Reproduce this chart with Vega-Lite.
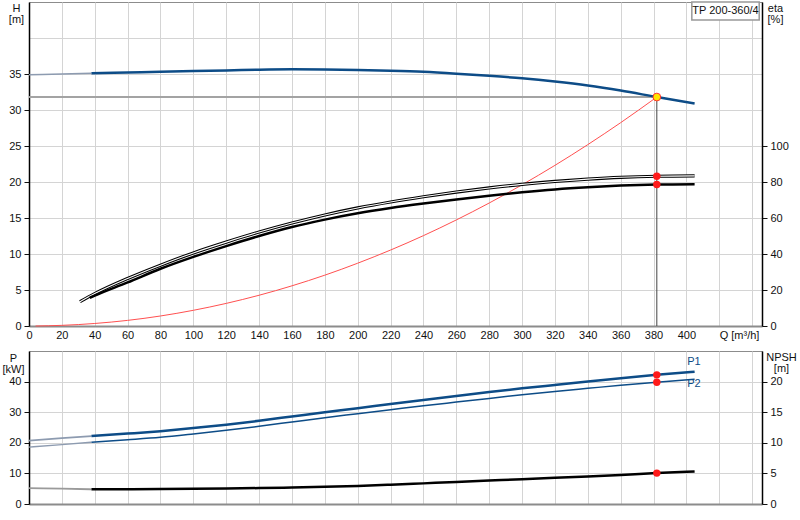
{
  "$schema": "https://vega.github.io/schema/vega-lite/v6.json",
  "padding": {"left": 1, "top": 0, "right": 0, "bottom": 0},
  "spacing": 9,
  "config": {
    "font": "Liberation Sans",
    "view": {"stroke": "#8c8c8c", "strokeWidth": 1},
    "line": {"interpolate": "monotone"},
    "axis": {
      "labelFont": "Liberation Sans", "labelFontSize": 11, "labelColor": "#111",
      "titleFont": "Liberation Sans", "titleFontSize": 11, "titleFontWeight": "normal", "titleColor": "#111",
      "gridColor": "#d4d4d4", "gridOpacity": 1, "gridWidth": 1, "format": "d",
      "tickColor": "#111", "labelFlush": false, "labelOverlap": false
    }
  },
  "datasets": {
    "lines": [
      {"s": "sys", "q": 4, "v": 0.0}, {"s": "sys", "q": 20, "v": 0.09}, {"s": "sys", "q": 40, "v": 0.35},
      {"s": "sys", "q": 60, "v": 0.78}, {"s": "sys", "q": 80, "v": 1.39}, {"s": "sys", "q": 100, "v": 2.18},
      {"s": "sys", "q": 120, "v": 3.14}, {"s": "sys", "q": 140, "v": 4.27}, {"s": "sys", "q": 160, "v": 5.58},
      {"s": "sys", "q": 180, "v": 7.06}, {"s": "sys", "q": 200, "v": 8.72}, {"s": "sys", "q": 220, "v": 10.55},
      {"s": "sys", "q": 240, "v": 12.55}, {"s": "sys", "q": 260, "v": 14.73}, {"s": "sys", "q": 280, "v": 17.08},
      {"s": "sys", "q": 300, "v": 19.61}, {"s": "sys", "q": 320, "v": 22.31}, {"s": "sys", "q": 340, "v": 25.19},
      {"s": "sys", "q": 360, "v": 28.24}, {"s": "sys", "q": 382, "v": 31.8},

      {"s": "Hlo", "q": 0, "v": 34.9}, {"s": "Hlo", "q": 20, "v": 35.0}, {"s": "Hlo", "q": 38, "v": 35.1},
      {"s": "H", "q": 38, "v": 35.1}, {"s": "H", "q": 60, "v": 35.2}, {"s": "H", "q": 80, "v": 35.3},
      {"s": "H", "q": 100, "v": 35.4}, {"s": "H", "q": 120, "v": 35.5}, {"s": "H", "q": 140, "v": 35.6},
      {"s": "H", "q": 160, "v": 35.65}, {"s": "H", "q": 180, "v": 35.62}, {"s": "H", "q": 200, "v": 35.55},
      {"s": "H", "q": 220, "v": 35.45}, {"s": "H", "q": 240, "v": 35.3}, {"s": "H", "q": 260, "v": 35.05},
      {"s": "H", "q": 280, "v": 34.75}, {"s": "H", "q": 300, "v": 34.4}, {"s": "H", "q": 320, "v": 33.95},
      {"s": "H", "q": 340, "v": 33.4}, {"s": "H", "q": 360, "v": 32.7}, {"s": "H", "q": 382, "v": 31.8},
      {"s": "H", "q": 405, "v": 30.9},

      {"s": "eta1", "q": 31, "v": 13.5}, {"s": "eta1", "q": 40, "v": 18.0}, {"s": "eta1", "q": 60, "v": 26.4},
      {"s": "eta1", "q": 80, "v": 33.8}, {"s": "eta1", "q": 100, "v": 40.6}, {"s": "eta1", "q": 120, "v": 46.6},
      {"s": "eta1", "q": 140, "v": 52.2}, {"s": "eta1", "q": 160, "v": 57.2}, {"s": "eta1", "q": 180, "v": 61.7},
      {"s": "eta1", "q": 200, "v": 65.6}, {"s": "eta1", "q": 220, "v": 68.9}, {"s": "eta1", "q": 240, "v": 71.8},
      {"s": "eta1", "q": 260, "v": 74.4}, {"s": "eta1", "q": 280, "v": 76.7}, {"s": "eta1", "q": 300, "v": 78.7},
      {"s": "eta1", "q": 320, "v": 80.3}, {"s": "eta1", "q": 340, "v": 81.6}, {"s": "eta1", "q": 360, "v": 82.6},
      {"s": "eta1", "q": 382, "v": 83.2}, {"s": "eta1", "q": 405, "v": 83.4},

      {"s": "eta2", "q": 37, "v": 15.7}, {"s": "eta2", "q": 40, "v": 16.9}, {"s": "eta2", "q": 60, "v": 24.2},
      {"s": "eta2", "q": 80, "v": 31.8}, {"s": "eta2", "q": 100, "v": 38.4}, {"s": "eta2", "q": 120, "v": 44.4},
      {"s": "eta2", "q": 140, "v": 50.0}, {"s": "eta2", "q": 160, "v": 55.0}, {"s": "eta2", "q": 180, "v": 59.1},
      {"s": "eta2", "q": 200, "v": 62.6}, {"s": "eta2", "q": 220, "v": 65.5}, {"s": "eta2", "q": 240, "v": 68.0},
      {"s": "eta2", "q": 260, "v": 70.3}, {"s": "eta2", "q": 280, "v": 72.4}, {"s": "eta2", "q": 300, "v": 74.3},
      {"s": "eta2", "q": 320, "v": 75.9}, {"s": "eta2", "q": 340, "v": 77.1}, {"s": "eta2", "q": 360, "v": 78.0},
      {"s": "eta2", "q": 382, "v": 78.6}, {"s": "eta2", "q": 405, "v": 78.8},

      {"s": "P1lo", "q": 0, "v": 20.7}, {"s": "P1lo", "q": 20, "v": 21.5}, {"s": "P1lo", "q": 38, "v": 22.2},
      {"s": "P1", "q": 38, "v": 22.2}, {"s": "P1", "q": 60, "v": 23.0}, {"s": "P1", "q": 80, "v": 23.8},
      {"s": "P1", "q": 100, "v": 24.8}, {"s": "P1", "q": 120, "v": 25.9}, {"s": "P1", "q": 140, "v": 27.2},
      {"s": "P1", "q": 160, "v": 28.6}, {"s": "P1", "q": 180, "v": 30.0}, {"s": "P1", "q": 200, "v": 31.3},
      {"s": "P1", "q": 220, "v": 32.7}, {"s": "P1", "q": 240, "v": 34.0}, {"s": "P1", "q": 260, "v": 35.3},
      {"s": "P1", "q": 280, "v": 36.6}, {"s": "P1", "q": 300, "v": 37.8}, {"s": "P1", "q": 320, "v": 38.9},
      {"s": "P1", "q": 340, "v": 40.0}, {"s": "P1", "q": 360, "v": 41.1}, {"s": "P1", "q": 382, "v": 42.2},
      {"s": "P1", "q": 405, "v": 43.2},

      {"s": "P2lo", "q": 0, "v": 18.6}, {"s": "P2lo", "q": 20, "v": 19.4}, {"s": "P2lo", "q": 38, "v": 20.2},
      {"s": "P2", "q": 38, "v": 20.2}, {"s": "P2", "q": 60, "v": 21.0}, {"s": "P2", "q": 80, "v": 21.8},
      {"s": "P2", "q": 100, "v": 22.9}, {"s": "P2", "q": 120, "v": 24.1}, {"s": "P2", "q": 140, "v": 25.4},
      {"s": "P2", "q": 160, "v": 26.8}, {"s": "P2", "q": 180, "v": 28.2}, {"s": "P2", "q": 200, "v": 29.5},
      {"s": "P2", "q": 220, "v": 30.8}, {"s": "P2", "q": 240, "v": 32.1}, {"s": "P2", "q": 260, "v": 33.3},
      {"s": "P2", "q": 280, "v": 34.5}, {"s": "P2", "q": 300, "v": 35.7}, {"s": "P2", "q": 320, "v": 36.8},
      {"s": "P2", "q": 340, "v": 37.8}, {"s": "P2", "q": 360, "v": 38.8}, {"s": "P2", "q": 382, "v": 39.8},
      {"s": "P2", "q": 405, "v": 40.8},

      {"s": "NPSHlo", "q": 0, "v": 2.6}, {"s": "NPSHlo", "q": 20, "v": 2.5}, {"s": "NPSHlo", "q": 38, "v": 2.4},
      {"s": "NPSH", "q": 38, "v": 2.4}, {"s": "NPSH", "q": 60, "v": 2.4}, {"s": "NPSH", "q": 80, "v": 2.45},
      {"s": "NPSH", "q": 100, "v": 2.5}, {"s": "NPSH", "q": 120, "v": 2.55}, {"s": "NPSH", "q": 140, "v": 2.6},
      {"s": "NPSH", "q": 160, "v": 2.7}, {"s": "NPSH", "q": 180, "v": 2.8}, {"s": "NPSH", "q": 200, "v": 2.95},
      {"s": "NPSH", "q": 220, "v": 3.15}, {"s": "NPSH", "q": 240, "v": 3.37}, {"s": "NPSH", "q": 260, "v": 3.6},
      {"s": "NPSH", "q": 280, "v": 3.82}, {"s": "NPSH", "q": 300, "v": 4.05}, {"s": "NPSH", "q": 320, "v": 4.27},
      {"s": "NPSH", "q": 340, "v": 4.5}, {"s": "NPSH", "q": 360, "v": 4.75}, {"s": "NPSH", "q": 382, "v": 5.05},
      {"s": "NPSH", "q": 405, "v": 5.3}
    ],
    "duty": [{"q0": 0, "q": 382, "h0": 0, "h": 31.8}],
    "box": [{"q0": 403.3, "q1": 444.3, "h0": 42.5, "h1": 45, "qm": 423.8, "hm": 43.75, "label": "TP 200-360/4"}],
    "tags": [{"t": "P1", "q": 404.6, "v": 46.3}, {"t": "P2", "q": 404.6, "v": 39.1}]
  },
  "vconcat": [
    {
      "width": 733,
      "height": 324,
      "resolve": {"scale": {"y": "independent"}},
      "layer": [
        {
          "layer": [
            {
              "data": {"name": "lines"},
              "transform": [{"filter": "datum.s == 'sys'"}],
              "mark": {"type": "line", "color": "#ff5050", "strokeWidth": 1},
              "encoding": {
                "x": {
                  "field": "q", "type": "quantitative",
                  "scale": {"domain": [0, 446], "nice": false, "zero": false},
                  "axis": {
                    "values": [0, 20, 40, 60, 80, 100, 120, 140, 160, 180, 200, 220, 240, 260, 280, 300, 320, 340, 360, 380, 400, 420, 440],
                    "tickCount": 60,
                    "labelExpr": "datum.value <= 400 ? datum.label : ''",
                    "ticks": false, "tickSize": 0, "labelPadding": 3, "grid": true,
                    "domainColor": "#8c8c8c", "domainWidth": 2,
                    "title": "Q [m³/h]", "titleX": 710, "titleY": 3,
                    "titleBaseline": "top", "titleAlign": "center"
                  }
                },
                "y": {
                  "field": "v", "type": "quantitative",
                  "scale": {"domain": [0, 45], "nice": false, "zero": false},
                  "axis": {
                    "values": [0, 5, 10, 15, 20, 25, 30, 35, 40],
                    "tickCount": 60,
                    "labelExpr": "datum.value <= 35 ? datum.label : ''",
                    "tickOpacity": {"condition": {"test": "datum.value > 35", "value": 0}, "value": 1},
                    "tickSize": 5, "labelPadding": 3, "grid": true,
                    "domainColor": "#000", "domainWidth": 1.5,
                    "title": ["H", "[m]"], "titleAngle": 0, "titleAlign": "center",
                    "titleBaseline": "top", "titleX": -13, "titleY": 0, "titleLineHeight": 11
                  }
                }
              }
            },
            {
              "data": {"name": "duty"},
              "mark": {"type": "rule", "color": "#a3a3a3", "strokeWidth": 2},
              "encoding": {
                "x": {"field": "q0", "type": "quantitative", "scale": {"domain": [0, 446], "nice": false, "zero": false}},
                "x2": {"field": "q"},
                "y": {"field": "h", "type": "quantitative", "scale": {"domain": [0, 45], "nice": false, "zero": false}}
              }
            },
            {
              "data": {"name": "duty"},
              "mark": {"type": "rule", "color": "#444444", "strokeWidth": 1},
              "encoding": {
                "x": {"field": "q", "type": "quantitative", "scale": {"domain": [0, 446], "nice": false, "zero": false}},
                "y": {"field": "h0", "type": "quantitative", "scale": {"domain": [0, 45], "nice": false, "zero": false}},
                "y2": {"field": "h"}
              }
            },
            {
              "data": {"name": "lines"},
              "transform": [{"filter": "datum.s == 'Hlo'"}],
              "mark": {"type": "line", "color": "#8d9bb0", "strokeWidth": 1.5},
              "encoding": {
                "x": {"field": "q", "type": "quantitative", "scale": {"domain": [0, 446], "nice": false, "zero": false}},
                "y": {"field": "v", "type": "quantitative", "scale": {"domain": [0, 45], "nice": false, "zero": false}}
              }
            },
            {
              "data": {"name": "lines"},
              "transform": [{"filter": "datum.s == 'H'"}],
              "mark": {"type": "line", "color": "#0d4c87", "strokeWidth": 2.5},
              "encoding": {
                "x": {"field": "q", "type": "quantitative", "scale": {"domain": [0, 446], "nice": false, "zero": false}},
                "y": {"field": "v", "type": "quantitative", "scale": {"domain": [0, 45], "nice": false, "zero": false}}
              }
            },
            {
              "data": {"name": "duty"},
              "mark": {"type": "point", "filled": true, "fill": "#ffe600", "stroke": "#ff3030", "strokeWidth": 1, "size": 60, "opacity": 1},
              "encoding": {
                "x": {"field": "q", "type": "quantitative", "scale": {"domain": [0, 446], "nice": false, "zero": false}},
                "y": {"field": "h", "type": "quantitative", "scale": {"domain": [0, 45], "nice": false, "zero": false}}
              }
            },
            {
              "data": {"name": "box"},
              "mark": {"type": "rect", "fill": "#ffffff", "stroke": "#999999", "strokeWidth": 1.5},
              "encoding": {
                "x": {"field": "q0", "type": "quantitative", "scale": {"domain": [0, 446], "nice": false, "zero": false}},
                "x2": {"field": "q1"},
                "y": {"field": "h0", "type": "quantitative", "scale": {"domain": [0, 45], "nice": false, "zero": false}},
                "y2": {"field": "h1"}
              }
            },
            {
              "data": {"name": "box"},
              "mark": {"type": "text", "font": "Liberation Sans", "fontSize": 11, "color": "#111", "align": "center", "baseline": "middle"},
              "encoding": {
                "x": {"field": "qm", "type": "quantitative", "scale": {"domain": [0, 446], "nice": false, "zero": false}},
                "y": {"field": "hm", "type": "quantitative", "scale": {"domain": [0, 45], "nice": false, "zero": false}},
                "text": {"field": "label"}
              }
            }
          ]
        },
        {
          "layer": [
            {
              "data": {"name": "lines"},
              "transform": [{"filter": "datum.s == 'eta1'"}],
              "mark": {"type": "line", "color": "#000000", "strokeWidth": 3.2},
              "encoding": {
                "x": {"field": "q", "type": "quantitative", "scale": {"domain": [0, 446], "nice": false, "zero": false}},
                "y": {
                  "field": "v", "type": "quantitative",
                  "scale": {"domain": [0, 180], "nice": false, "zero": false},
                  "axis": {
                    "orient": "right", "values": [0, 20, 40, 60, 80, 100], "tickCount": 60, "grid": false,
                    "tickSize": 5, "labelPadding": 3, "domainColor": "#000", "domainWidth": 1.5,
                    "title": ["eta", "[%]"], "titleAngle": 0, "titleAlign": "center",
                    "titleBaseline": "top", "titleX": 13, "titleY": 0, "titleLineHeight": 11
                  }
                }
              }
            },
            {
              "data": {"name": "lines"},
              "transform": [{"filter": "datum.s == 'eta1'"}],
              "mark": {"type": "line", "color": "#ffffff", "strokeWidth": 1.1},
              "encoding": {
                "x": {"field": "q", "type": "quantitative", "scale": {"domain": [0, 446], "nice": false, "zero": false}},
                "y": {"field": "v", "type": "quantitative", "scale": {"domain": [0, 180], "nice": false, "zero": false}}
              }
            },
            {
              "data": {"name": "lines"},
              "transform": [{"filter": "datum.s == 'eta2'"}],
              "mark": {"type": "line", "color": "#000000", "strokeWidth": 2.5},
              "encoding": {
                "x": {"field": "q", "type": "quantitative", "scale": {"domain": [0, 446], "nice": false, "zero": false}},
                "y": {"field": "v", "type": "quantitative", "scale": {"domain": [0, 180], "nice": false, "zero": false}}
              }
            },
            {
              "data": {"name": "lines"},
              "transform": [{"filter": "(datum.s == 'eta1' || datum.s == 'eta2') && datum.q == 382"}],
              "mark": {"type": "circle", "color": "#ff1a1a", "size": 55, "opacity": 1},
              "encoding": {
                "x": {"field": "q", "type": "quantitative", "scale": {"domain": [0, 446], "nice": false, "zero": false}},
                "y": {"field": "v", "type": "quantitative", "scale": {"domain": [0, 180], "nice": false, "zero": false}}
              }
            }
          ]
        }
      ]
    },
    {
      "width": 733,
      "height": 153,
      "resolve": {"scale": {"y": "independent"}},
      "layer": [
        {
          "layer": [
            {
              "data": {"name": "lines"},
              "transform": [{"filter": "datum.s == 'P1lo'"}],
              "mark": {"type": "line", "color": "#8d9bb0", "strokeWidth": 1.8},
              "encoding": {
                "x": {
                  "field": "q", "type": "quantitative",
                  "scale": {"domain": [0, 446], "nice": false, "zero": false},
                  "axis": {
                    "values": [0, 20, 40, 60, 80, 100, 120, 140, 160, 180, 200, 220, 240, 260, 280, 300, 320, 340, 360, 380, 400, 420, 440],
                    "tickCount": 60,
                    "labels": false, "ticks": false, "tickSize": 0, "grid": true,
                    "domainColor": "#8c8c8c", "domainWidth": 2, "title": null
                  }
                },
                "y": {
                  "field": "v", "type": "quantitative",
                  "scale": {"domain": [0, 50], "nice": false, "zero": false},
                  "axis": {
                    "values": [0, 10, 20, 30, 40], "tickCount": 60, "tickSize": 5, "labelPadding": 3, "grid": true,
                    "domainColor": "#000", "domainWidth": 1.5,
                    "title": ["P", "[kW]"], "titleAngle": 0, "titleAlign": "center",
                    "titleBaseline": "top", "titleX": -16, "titleY": 1, "titleLineHeight": 11
                  }
                }
              }
            },
            {
              "data": {"name": "lines"},
              "transform": [{"filter": "datum.s == 'P2lo'"}],
              "mark": {"type": "line", "color": "#8d9bb0", "strokeWidth": 1.3},
              "encoding": {
                "x": {"field": "q", "type": "quantitative", "scale": {"domain": [0, 446], "nice": false, "zero": false}},
                "y": {"field": "v", "type": "quantitative", "scale": {"domain": [0, 50], "nice": false, "zero": false}}
              }
            },
            {
              "data": {"name": "lines"},
              "transform": [{"filter": "datum.s == 'P1'"}],
              "mark": {"type": "line", "color": "#0d4c87", "strokeWidth": 2.5},
              "encoding": {
                "x": {"field": "q", "type": "quantitative", "scale": {"domain": [0, 446], "nice": false, "zero": false}},
                "y": {"field": "v", "type": "quantitative", "scale": {"domain": [0, 50], "nice": false, "zero": false}}
              }
            },
            {
              "data": {"name": "lines"},
              "transform": [{"filter": "datum.s == 'P2'"}],
              "mark": {"type": "line", "color": "#0d4c87", "strokeWidth": 1.5},
              "encoding": {
                "x": {"field": "q", "type": "quantitative", "scale": {"domain": [0, 446], "nice": false, "zero": false}},
                "y": {"field": "v", "type": "quantitative", "scale": {"domain": [0, 50], "nice": false, "zero": false}}
              }
            },
            {
              "data": {"name": "lines"},
              "transform": [{"filter": "(datum.s == 'P1' || datum.s == 'P2') && datum.q == 382"}],
              "mark": {"type": "circle", "color": "#ff1a1a", "size": 55, "opacity": 1},
              "encoding": {
                "x": {"field": "q", "type": "quantitative", "scale": {"domain": [0, 446], "nice": false, "zero": false}},
                "y": {"field": "v", "type": "quantitative", "scale": {"domain": [0, 50], "nice": false, "zero": false}}
              }
            },
            {
              "data": {"name": "tags"},
              "mark": {"type": "text", "font": "Liberation Sans", "fontSize": 11, "color": "#0d4c87", "align": "center", "baseline": "middle"},
              "encoding": {
                "x": {"field": "q", "type": "quantitative", "scale": {"domain": [0, 446], "nice": false, "zero": false}},
                "y": {"field": "v", "type": "quantitative", "scale": {"domain": [0, 50], "nice": false, "zero": false}},
                "text": {"field": "t"}
              }
            }
          ]
        },
        {
          "layer": [
            {
              "data": {"name": "lines"},
              "transform": [{"filter": "datum.s == 'NPSHlo'"}],
              "mark": {"type": "line", "color": "#9a9a9a", "strokeWidth": 1.8},
              "encoding": {
                "x": {"field": "q", "type": "quantitative", "scale": {"domain": [0, 446], "nice": false, "zero": false}},
                "y": {
                  "field": "v", "type": "quantitative",
                  "scale": {"domain": [0, 25], "nice": false, "zero": false},
                  "axis": {
                    "orient": "right", "values": [0, 5, 10, 15, 20], "tickCount": 60, "grid": false,
                    "tickSize": 5, "labelPadding": 3, "domainColor": "#000", "domainWidth": 1.5,
                    "title": ["NPSH", "[m]"], "titleAngle": 0, "titleAlign": "center",
                    "titleBaseline": "top", "titleX": 19, "titleY": 0, "titleLineHeight": 11
                  }
                }
              }
            },
            {
              "data": {"name": "lines"},
              "transform": [{"filter": "datum.s == 'NPSH'"}],
              "mark": {"type": "line", "color": "#000000", "strokeWidth": 2.5},
              "encoding": {
                "x": {"field": "q", "type": "quantitative", "scale": {"domain": [0, 446], "nice": false, "zero": false}},
                "y": {"field": "v", "type": "quantitative", "scale": {"domain": [0, 25], "nice": false, "zero": false}}
              }
            },
            {
              "data": {"name": "lines"},
              "transform": [{"filter": "datum.s == 'NPSH' && datum.q == 382"}],
              "mark": {"type": "circle", "color": "#ff1a1a", "size": 55, "opacity": 1},
              "encoding": {
                "x": {"field": "q", "type": "quantitative", "scale": {"domain": [0, 446], "nice": false, "zero": false}},
                "y": {"field": "v", "type": "quantitative", "scale": {"domain": [0, 25], "nice": false, "zero": false}}
              }
            }
          ]
        }
      ]
    }
  ]
}
